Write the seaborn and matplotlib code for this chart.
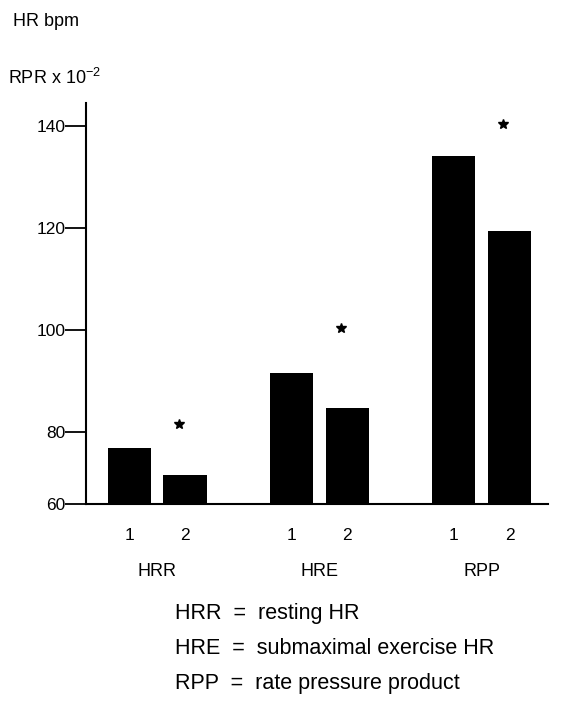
import numpy as np
import pandas as pd
import matplotlib
matplotlib.use("Agg")
import matplotlib.pyplot as plt
import seaborn as sns

# ---- data ----
groups = ["HRR", "HRE", "RPP"]
visits = ["1", "2"]
values_visit1 = [75.6, 91.6, 134.1]
values_visit2 = [68.0, 84.8, 119.4]
star_values = [81.6, 100.4, 140.4]
y_ticks = [60, 80, 100, 120, 140]
legend_lines = ["HRR  =  resting HR",
                "HRE  =  submaximal exercise HR",
                "RPP  =  rate pressure product"]

df = pd.DataFrame({
    "group": groups * 2,
    "visit": [visits[0]] * 3 + [visits[1]] * 3,
    "value": values_visit1 + values_visit2,
})

sns.set_theme(style="ticks")
plt.rcParams["font.family"] = ["Liberation Sans", "DejaVu Sans"]
plt.rcParams["mathtext.default"] = "regular"
plt.rcParams["text.color"] = "black"

fig = plt.figure(figsize=(5.83, 7.04), dpi=100)
ax = fig.add_axes([86 / 583, 1 - 504 / 704, (548 - 86) / 583, (504 - 103) / 704])

# compressed lower segment (60-80) of the y axis
ratio = 0.7
def fwd(y):
    y = np.asarray(y, dtype=float)
    return np.where(y >= 80, y, 80 - (80 - y) * ratio)
def inv(z):
    z = np.asarray(z, dtype=float)
    return np.where(z >= 80, z, 80 - (80 - z) / ratio)
ax.set_yscale("function", functions=(fwd, inv))

sns.barplot(data=df, x="group", y="value", hue="visit", order=groups,
            hue_order=visits, palette=["black", "black"], width=0.69,
            gap=0.22, saturation=1, legend=False, ax=ax, linewidth=0)

ax.set_ylim(60, 144.5)
ax.set_xlim(-0.44, 2.41)
ax.set_yticks(y_ticks)
ax.set_yticklabels([str(t) for t in y_ticks])
ax.tick_params(axis="y", length=15, width=1.3, pad=0, labelsize=12.5, colors="black")
ax.yaxis.set_minor_locator(matplotlib.ticker.NullLocator())

# x ticks: visit numbers under each bar
patches = sorted(ax.patches, key=lambda p: p.get_x())
centers = [p.get_x() + p.get_width() / 2 for p in patches]
ax.set_xticks(centers)
ax.set_xticklabels(visits * 3)
ax.tick_params(axis="x", length=0, pad=17, labelsize=12.5, colors="black")
ax.set_xlabel("")
ax.set_ylabel("")

for sp in ["top", "right"]:
    ax.spines[sp].set_visible(False)
for sp in ["left", "bottom"]:
    ax.spines[sp].set_linewidth(1.5)
    ax.spines[sp].set_color("black")

# group labels
trans = matplotlib.transforms.blended_transform_factory(ax.transData, ax.transAxes)
for i, g in enumerate(groups):
    ax.text(i, -68 / 401, g, transform=trans, ha="center", va="center", fontsize=13)

# significance stars above visit-2 bars
for i, s in enumerate(star_values):
    ax.plot(centers[2 * i + 1] - 0.04, s, marker="*", color="black", markersize=7,
            clip_on=False)

# axis titles
fig.text(13 / 583, 1 - 22 / 704, "HR bpm", ha="left", va="center", fontsize=13)
fig.text(8 / 583, 1 - 78 / 704, "RPR x 10$^{-2}$", ha="left", va="center", fontsize=13)

# explanation lines
for k, line in enumerate(legend_lines):
    fig.text(175 / 583, 1 - (613 + 35.5 * k) / 704, line, ha="left", va="center",
             fontsize=15.5)

fig.savefig("out.png", dpi=100)
